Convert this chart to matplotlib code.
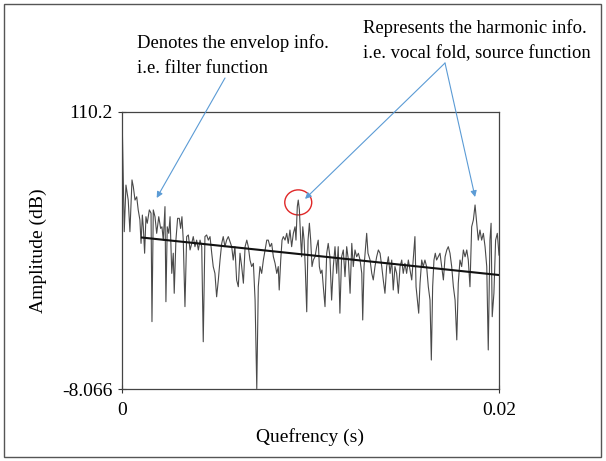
import matplotlib
matplotlib.use("Agg")
import matplotlib.pyplot as plt
from matplotlib.patches import Ellipse, Rectangle
import numpy as np

# cepstrum: quefrency in ms, amplitude in dB
quefrency_ms = [
    0.0, 0.12, 0.21, 0.33, 0.42, 0.53, 0.60, 0.69, 0.78, 0.86, 0.95, 1.01, 1.08, 1.13, 1.20,
    1.27, 1.34, 1.45, 1.54, 1.59, 1.66, 1.75, 1.84, 1.95, 2.05, 2.12, 2.19, 2.28, 2.33, 2.40,
    2.48, 2.55, 2.64, 2.72, 2.77, 2.86, 2.95, 3.04, 3.11, 3.18, 3.25, 3.34, 3.43, 3.52, 3.61,
    3.70, 3.78, 3.87, 3.96, 4.05, 4.14, 4.23, 4.31, 4.40, 4.49, 4.58, 4.67, 4.76, 4.84, 4.93,
    5.02, 5.11, 5.20, 5.29, 5.37, 5.46, 5.55, 5.64, 5.73, 5.82, 5.90, 5.99, 6.08, 6.17, 6.26,
    6.35, 6.44, 6.53, 6.62, 6.70, 6.79, 6.88, 6.97, 7.06, 7.15, 7.23, 7.32, 7.41, 7.50, 7.59,
    7.68, 7.76, 7.85, 7.94, 8.03, 8.12, 8.21, 8.29, 8.34, 8.42, 8.49, 8.56, 8.65, 8.74, 8.82,
    8.91, 9.00, 9.09, 9.18, 9.23, 9.30, 9.35, 9.41, 9.48, 9.53, 9.59, 9.66, 9.72, 9.80, 9.87,
    9.94, 10.01, 10.08, 10.15, 10.24, 10.33, 10.41, 10.47, 10.54, 10.61, 10.68, 10.77, 10.86, 10.94, 11.03,
    11.12, 11.21, 11.30, 11.39, 11.47, 11.56, 11.65, 11.74, 11.83, 11.92, 12.01, 12.10, 12.19, 12.27, 12.36,
    12.45, 12.54, 12.63, 12.72, 12.77, 12.84, 12.91, 12.98, 13.05, 13.16, 13.25, 13.33, 13.42, 13.51, 13.60,
    13.69, 13.78, 13.86, 13.95, 14.04, 14.13, 14.22, 14.31, 14.39, 14.48, 14.57, 14.66, 14.75, 14.84, 14.92,
    15.01, 15.10, 15.19, 15.28, 15.37, 15.45, 15.54, 15.60, 15.67, 15.74, 15.81, 15.90, 15.98, 16.07, 16.16,
    16.25, 16.34, 16.41, 16.48, 16.55, 16.62, 16.69, 16.78, 16.87, 16.96, 17.05, 17.14, 17.23, 17.31, 17.40,
    17.49, 17.58, 17.67, 17.76, 17.84, 17.93, 18.02, 18.11, 18.20, 18.29, 18.37, 18.46, 18.55, 18.64, 18.73,
    18.82, 18.90, 18.99, 19.08, 19.17, 19.26, 19.35, 19.43, 19.52, 19.58, 19.64, 19.73, 19.82, 19.91, 19.98,
    20.0,
]
amplitude_db = [
    110.2, 59.1, 79.0, 72.6, 59.1, 81.2, 78.3, 72.6, 74.0, 68.4, 64.1, 54.1, 66.2, 61.2, 49.9,
    65.5, 62.7, 68.4, 67.0, 20.7, 68.4, 65.5, 58.4, 65.5, 60.5, 61.2, 55.5, 69.8, 29.2, 61.2,
    58.4, 65.5, 41.3, 49.9, 32.8, 55.5, 64.8, 64.8, 60.5, 65.5, 55.5, 27.1, 57.0, 57.7, 51.3,
    54.1, 57.0, 52.7, 55.5, 51.3, 55.5, 52.7, 12.1, 57.0, 57.7, 55.5, 57.0, 49.9, 44.2, 41.3,
    31.3, 38.5, 47.0, 54.1, 57.0, 52.7, 55.5, 57.0, 54.8, 52.7, 47.0, 52.7, 38.5, 35.6, 49.9,
    44.2, 37.1, 52.7, 55.5, 52.7, 47.0, 44.2, 45.6, 29.9, -7.9, 35.6, 44.2, 41.3, 47.0, 51.3,
    55.5, 55.5, 52.7, 54.1, 48.4, 45.6, 41.3, 44.2, 34.2, 47.0, 55.5, 57.0, 55.5, 58.4, 54.1,
    59.8, 52.7, 58.4, 61.2, 55.5, 69.8, 72.6, 68.4, 55.5, 48.4, 61.2, 55.5, 44.2, 24.9, 55.5,
    62.7, 55.5, 44.2, 47.0, 48.4, 52.7, 55.5, 44.2, 41.3, 42.7, 35.6, 27.1, 49.9, 54.1, 48.4,
    29.9, 44.2, 52.7, 41.3, 52.7, 24.3, 48.4, 51.3, 39.9, 52.7, 47.0, 32.8, 54.1, 44.2, 51.3,
    48.4, 49.9, 47.0, 41.3, 21.4, 44.2, 51.3, 58.4, 49.9, 47.0, 41.3, 38.5, 44.2, 48.4, 51.3,
    49.9, 44.2, 38.5, 32.8, 44.2, 48.4, 41.3, 47.0, 34.2, 44.2, 41.3, 32.8, 44.2, 47.0, 41.3,
    45.6, 41.3, 47.0, 42.7, 38.5, 47.0, 57.0, 35.6, 29.9, 24.3, 37.1, 47.0, 44.2, 47.0, 44.2,
    35.6, 29.9, 4.3, 35.6, 47.0, 49.9, 47.0, 48.4, 49.9, 44.2, 38.5, 48.4, 51.3, 52.7, 49.9,
    44.2, 35.6, 29.9, 12.9, 37.1, 47.0, 44.2, 51.3, 48.4, 51.3, 47.0, 35.6, 61.2, 64.1, 70.5,
    62.7, 55.5, 59.8, 55.5, 58.4, 52.7, 44.2, 8.6, 55.5, 62.7, 22.8, 32.8, 55.5, 58.4, 51.3,
    49.1,
]

# linear trend drawn over the cepstrum
trend_ms = [1.06, 20.0]
trend_db = [56.6, 40.6]

y_ticks = [-8.066, 110.2]
y_tick_labels = ["-8.066", "110.2"]
x_ticks = [0, 0.02]
x_tick_labels = ["0", "0.02"]

q = np.array(quefrency_ms) / 1000
trend_q = np.array(trend_ms) / 1000

plt.rcParams["font.family"] = ["Liberation Serif", "DejaVu Serif"]
plt.rcParams["font.size"] = 14

fig = plt.figure(figsize=(6.06, 4.61), dpi=100)
ax = fig.add_axes([122 / 606, 72 / 461, 377 / 606, 277 / 461])

ax.plot(q, amplitude_db, color="#4a4a4a", lw=0.8)
ax.plot(trend_q, trend_db, color="#111111", lw=1.5)

ax.set_xlim(0, 0.02)
ax.set_ylim(-8.066, 110.2)
ax.set_xticks(x_ticks)
ax.set_xticklabels(x_tick_labels)
ax.set_yticks(y_ticks)
ax.set_yticklabels(y_tick_labels)
ax.tick_params(direction="inout", length=6, width=0.8, color="#333333", labelsize=14)
ax.tick_params(axis="x", pad=6)
ax.tick_params(axis="y", pad=4)
for s in ax.spines.values():
    s.set_color("#444444")
    s.set_linewidth(0.9)

ax.set_xlabel("Quefrency (s)", fontsize=14, labelpad=7)
ax.set_ylabel("Amplitude (dB)", fontsize=14, labelpad=11)

# red circle around the first rahmonic peak
ax.add_patch(Ellipse((0.00935, 71.6), 0.00143, 10.7, fill=False, ec="#e02828", lw=1.0))

blue = "#5b9bd5"
arrow = dict(arrowstyle="-|>", color=blue, lw=0.8, mutation_scale=9, shrinkA=0, shrinkB=0)
ax.annotate("", xy=(0.00184, 73.5), xytext=(225, 383), textcoords="figure pixels", arrowprops=arrow)
ax.annotate("", xy=(0.00971, 73.1), xytext=(445, 398), textcoords="figure pixels", arrowprops=arrow)
ax.annotate("", xy=(0.01873, 73.9), xytext=(445, 398), textcoords="figure pixels", arrowprops=arrow)

note_size = 13.4
fig.text(137 / 606, 1 - 48 / 461, "Denotes the envelop info.", ha="left", va="baseline", fontsize=note_size)
fig.text(137 / 606, 1 - 73 / 461, "i.e. filter function", ha="left", va="baseline", fontsize=note_size)
fig.text(363 / 606, 1 - 33 / 461, "Represents the harmonic info.", ha="left", va="baseline", fontsize=note_size)
fig.text(363 / 606, 1 - 58 / 461, "i.e. vocal fold, source function", ha="left", va="baseline", fontsize=note_size)

# frame around the whole figure
fig.patches.append(Rectangle((4 / 606, 4 / 461), 597 / 606, 453 / 461, transform=fig.transFigure,
                             fill=False, ec="#555555", lw=1.0))

fig.savefig("out.png", dpi=100)
